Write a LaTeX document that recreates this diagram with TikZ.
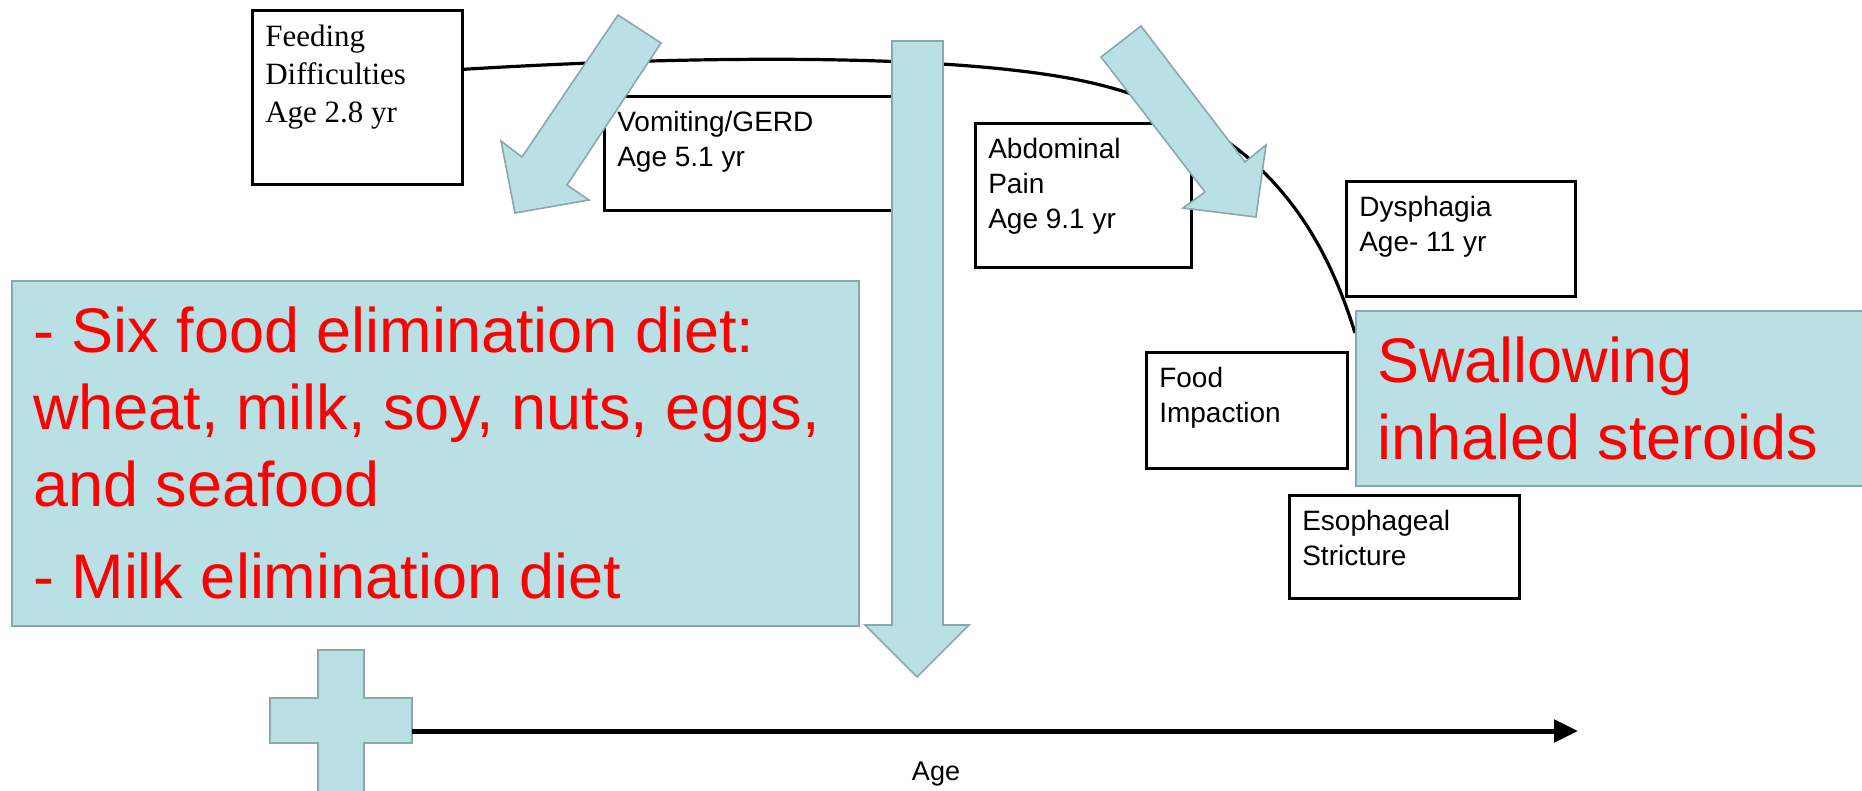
\documentclass[tikz,border=0pt]{standalone}
\usepackage{fontspec}
\setmainfont{Liberation Sans}
\newfontfamily\timesfont{Liberation Serif}
\usepackage{tikz}
\usetikzlibrary{positioning,arrows.meta}
\definecolor{paleteal}{RGB}{185,224,228}
\definecolor{tealedge}{RGB}{138,168,172}
\newcommand{\boxtxt}[3]{\parbox[c][#2pt][t]{#1pt}{\raggedright #3}}

\begin{document}
\begin{tikzpicture}[x=1pt, y=-1pt, box/.style={draw, line width=2.6pt, fill=white, anchor=north west,
  inner xsep=13pt, inner ysep=15pt, font=\fontsize{28}{35}\selectfont},
  bigbox/.style={draw=tealedge, line width=2.2pt, fill=paleteal, anchor=north west, inner xsep=21pt,
  inner ysep=26pt, text=red, font=\fontsize{63}{77}\selectfont},
  blockarrow/.style={draw=tealedge, line width=1.6pt, fill=paleteal, line join=miter}]
  \clip (0,0) rectangle (1862,791);
  % symptom boxes along the curve
  \node[box, font=\timesfont\fontsize{31}{38}\selectfont] (feed) at (251,9) {\boxtxt{184}{144}{Feeding\\Difficulties\\Age 2.8 yr}};
  \node[box] (vom) at (603,95) {\boxtxt{262}{84}{Vomiting/GERD\\Age 5.1 yr}};
  \node[box] (abd) at (974,122) {\boxtxt{190}{114}{Abdominal\\Pain\\Age 9.1 yr}};
  \node[box] (dys) at (1345,180) {\boxtxt{203}{85}{Dysphagia\\Age- 11 yr}};
  \node[box] (food) at (1145,351) {\boxtxt{175}{86}{Food\\Impaction}};
  \node[box] (eso) at (1288,494) {\boxtxt{204}{73}{Esophageal\\Stricture}};
  \coordinate (cend) at (1355,333);
  \draw[line width=3.2pt] ([yshift=28pt]feed.east) .. controls (650,58) and (900,52) .. (1050,75)
    .. controls (1250,105) and (1320,220) .. (cend);
  % block arrows
  \draw[blockarrow] (618,15) -- (661,43) -- (567,185) -- (589,200) -- (515,213) -- (501,141) -- (522,157) -- cycle;
  \draw[blockarrow] (1141,26) -- (1245,162) -- (1266,145) -- (1256,217) -- (1183,208) -- (1205,192) -- (1101,57) -- cycle;
  \draw[blockarrow] (892,41) -- (943,41) -- (943,625) -- (969,625) -- (917,677) -- (865,625) -- (892,625) -- cycle;
  % treatments
  \node[bigbox] (sixfood) at (11,280) {\boxtxt{805}{293}{- Six food elimination diet:\\wheat, milk, soy, nuts, eggs,\\and seafood\\[15pt]- Milk elimination diet}};
  \node[bigbox] (swal) at (1355,310) {\boxtxt{478}{123}{Swallowing\\inhaled steroids}};
  % age axis
  \draw[blockarrow] (318,650) -- (364,650) -- (364,698) -- (412,698) -- (412,743) -- (364,743) -- (364,830)
    -- (318,830) -- (318,743) -- (270,743) -- (270,698) -- (318,698) -- cycle;
  \coordinate (axisstart) at (412,731);
  \coordinate (axisend) at (1578,731);
  \draw[line width=5pt, -{Triangle[length=24pt, width=22pt]}] (axisstart) -- (axisend);
  \node[font=\fontsize{27}{30}\selectfont, anchor=base] (agelbl) at (936,780) {Age};
\end{tikzpicture}
\end{document}
